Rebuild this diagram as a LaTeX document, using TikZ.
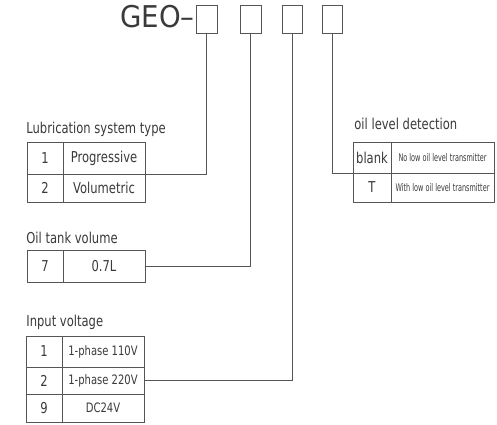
\documentclass[tikz,border=0pt]{standalone}
\usepackage{fontspec}
\setmainfont{DejaVu Sans}[FakeStretch=0.77]
\newfontfamily\narrowfont{DejaVu Sans}[FakeStretch=0.62]
\newfontfamily\geofont{DejaVu Sans}[FakeStretch=0.92]
\definecolor{linec}{HTML}{555555}
\definecolor{textc}{HTML}{3A3A3A}
\begin{document}
\begin{tikzpicture}[x=1pt,y=-1pt,line width=0.8pt,
  every node/.style={text=textc},
  cell/.style n args={2}{draw=linec, minimum width=#1, minimum height=#2, anchor=north west, inner sep=0pt, outer sep=0pt, font=\fontsize{15}{15}\selectfont},
  codebox/.style={draw=linec, minimum width=21pt, minimum height=28pt, anchor=north west, inner sep=0pt, outer sep=0pt},
  title/.style={anchor=base west, inner sep=0pt, font=\fontsize{15}{15}\selectfont},
  small/.style={font=\narrowfont\fontsize{10.5}{11}\selectfont},
  mid/.style={font=\fontsize{13}{13}\selectfont},
  conn/.style={draw=linec}]
\useasboundingbox (0,0) rectangle (497,424);
% header
\node[anchor=base east, inner sep=0pt, font=\geofont\fontsize{30}{30}\selectfont] (geo) at (195,27) {GEO–};
\node[codebox] (b1) at (196,5) {};
\node[codebox] (b2) at (240,5) {};
\node[codebox, minimum width=20pt] (b3) at (282,5) {};
\node[codebox, minimum width=20pt] (b4) at (322,5) {};
% table 1
\node[title] (h1) at (26,133) {Lubrication system type};
\node[cell={36pt}{32pt}] (t1a) at (27,142) {1};
\node[cell={82pt}{32pt}] (t1b) at (63,142) {Progressive};
\node[cell={36pt}{28pt}] (t1c) at (27,174) {2};
\node[cell={82pt}{28pt}] (t1d) at (63,174) {Volumetric};
% table 2
\node[title] (h2) at (26,243) {Oil tank volume};
\node[cell={36pt}{32pt}] (t2a) at (27,250) {7};
\node[cell={82pt}{32pt}] (t2b) at (63,250) {0.7L};
% table 3
\node[title] (h3) at (26,326) {Input voltage};
\node[cell={36pt}{31pt}] (t3a) at (26,336) {1};
\node[cell={82pt}{31pt}, mid] (t3b) at (62,336) {1-phase 110V};
\node[cell={36pt}{27pt}] (t3c) at (26,367) {2};
\node[cell={82pt}{27pt}, mid] (t3d) at (62,367) {1-phase 220V};
\node[cell={36pt}{28pt}] (t3e) at (26,394) {9};
\node[cell={82pt}{28pt}, mid] (t3f) at (62,394) {DC24V};
% table 4
\node[title] (h4) at (354,129) {oil level detection};
\node[cell={38pt}{31pt}] (t4a) at (353,142) {blank};
\node[cell={103pt}{31pt}, small] (t4b) at (391,142) {No low oil level transmitter};
\node[cell={38pt}{29pt}] (t4c) at (353,173) {T};
\node[cell={103pt}{29pt}, small] (t4d) at (391,173) {With low oil level transmitter};
% connectors
\draw[conn] (b1.south) |- (t1b.south east);
\draw[conn] (b2.south) |- (t2b.east);
\draw[conn] (b3.south) |- (t3d.east);
\draw[conn] (b4.south) |- (t4a.south west);
\end{tikzpicture}
\end{document}
